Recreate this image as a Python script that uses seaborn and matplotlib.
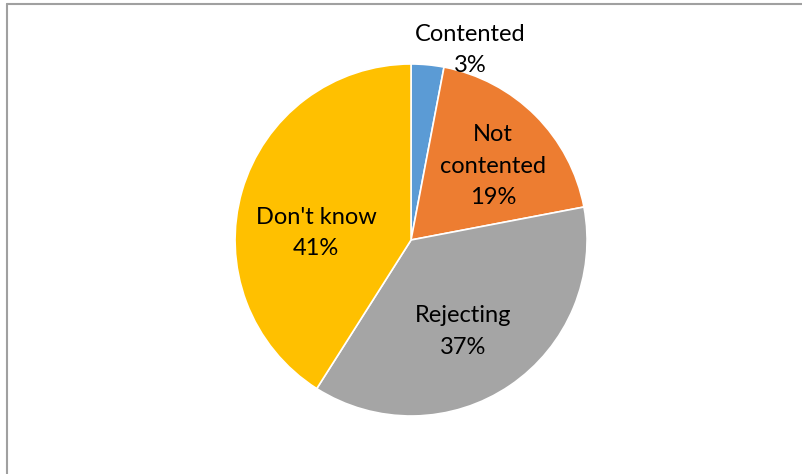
import matplotlib
matplotlib.use("Agg")
import matplotlib.pyplot as plt
import seaborn as sns

# ── Data ──────────────────────────────────────────────────────────────────────
categories = ["Contented", "Not\ncontented", "Rejecting", "Don't know"]
shares = [3, 19, 37, 41]
colors = ["#5B9BD5", "#ED7D31", "#A5A5A5", "#FFC000"]
# label centres (data coords, pie radius = 1)
label_xy = [(0.335, 1.08), (0.466, 0.42), (0.295, -0.52), (-0.54, 0.04)]

sns.set_theme(style="white")
plt.rcParams["font.family"] = ["Lato", "DejaVu Sans"]

fig = plt.figure(figsize=(8.03, 4.74), dpi=100)
ax = fig.add_axes([0.2927, 0.1224, 0.4384, 0.7426])

wedges, texts = ax.pie(
    shares, colors=colors, startangle=90, counterclock=False,
    labels=[f"{c}\n{v}%" for c, v in zip(categories, shares)],
    wedgeprops=dict(edgecolor="white", linewidth=1.2),
    textprops=dict(fontsize=17, color="black", ha="center", va="center",
                   linespacing=1.62),
)
for t, (x, y) in zip(texts, label_xy):
    t.set_position((x, y))
    t.set_ha("center")
    t.set_va("center")

ax.set_xlim(-1, 1)
ax.set_ylim(-1, 1)
ax.set_aspect("equal")
ax.axis("off")

# chart frame (only top and left edge visible in reference)
fig.add_artist(plt.Line2D([7 / 803, 1], [1 - 4 / 474] * 2, color="#A0A0A0", lw=1.5))
fig.add_artist(plt.Line2D([7 / 803] * 2, [0, 1 - 4 / 474], color="#A0A0A0", lw=1.5))

fig.savefig("out.png", dpi=100, facecolor="white")
